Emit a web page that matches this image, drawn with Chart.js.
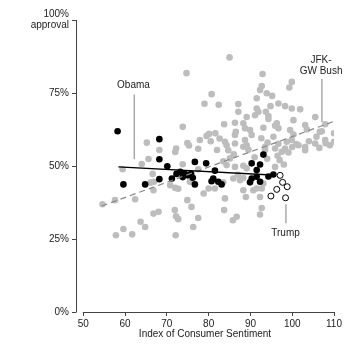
<!DOCTYPE html>
<html><head><meta charset="utf-8">
<script src="https://cdn.jsdelivr.net/npm/chart.js@4"></script>
<style>html,body{margin:0;padding:0;background:#fff}#wrap{width:355px;height:355px;position:relative}</style>
</head><body><div id="wrap"><canvas id="c" width="355" height="355"></canvas></div>
<script>
// ---- data (x = consumer sentiment index, y = approval %) ----
const jfkBushPoints = [
 [54.6,36.9],[57.6,38.3],[62.4,38.6],[59.4,48.9],[64.0,50.7],[65.6,52.4],[66.6,47.3],[66.9,44.6],[66.1,44.3],[66.8,41.7],
 [70.8,43.4],[72.0,42.5],[72.7,42.2],[73.8,50.6],[75.5,44.6],[77.5,48.9],[78.8,40.6],[80.0,42.3],[74.9,38.3],[75.9,36.0],
 [66.8,33.7],[68.0,34.3],[71.9,34.9],[72.7,31.8],[72.2,32.8],[63.7,30.9],[64.8,29.1],[77.5,32.2],[76.3,29.1],[59.6,28.4],
 [57.8,26.3],[61.7,26.6],[72.1,26.3],
 [74.7,81.8],[80.7,74.6],[79.0,71.3],[82.4,71.0],[73.8,63.4],[65.2,58.0],[74.9,57.9],[75.3,57.0],[77.9,58.9],[79.5,60.3],
 [80.1,61.0],[68.2,55.5],[72.2,56.0],[72.0,54.8],[77.5,55.9],[81.6,61.2],[80.5,58.5],[82.6,59.4],[83.9,58.3],
 [84.7,55.4],[88.3,56.6],[89.5,55.6],[84.3,57.1],[95.9,56.0],[97.5,54.9],[99.1,54.6],[103.1,55.4],[86.3,49.7],[88.3,50.1],
 [89.1,49.2],[84.3,50.3],[95.9,49.7],[85.1,52.6],[83.5,51.6],[83.5,44.4],[87.5,45.1],[88.3,45.9],[87.0,47.0],[85.9,45.7],
 [81.5,42.3],[83.9,38.9],[88.9,39.4],[92.3,39.4],[90.7,41.7],[88.3,41.7],[91.5,42.3],[92.7,42.3],[93.1,44.0],[92.7,35.6],
 [92.3,33.4],[86.7,32.6],[85.8,31.4],[83.7,34.9],[97.0,52.0],[98.0,50.5],[96.5,53.5],[94.0,52.5],[91.0,53.0],[93.5,55.5],
 [86.0,54.0],[82.0,55.5],
 [85.0,87.2],[92.9,81.5],[99.9,78.8],[99.3,76.9],[92.7,77.4],[92.3,76.0],[93.9,74.9],[95.2,74.0],[87.1,71.2],[87.1,68.6],
 [91.5,73.2],[91.5,69.7],[91.9,68.6],[94.8,70.5],[96.7,71.4],[98.3,70.5],[99.9,69.7],[101.9,69.4],[89.1,66.8],[91.1,67.4],
 [94.3,67.1],[93.7,68.6],[94.3,66.1],[105.5,66.8],[83.7,64.3],[88.3,64.6],[88.7,62.9],[86.3,64.8],[95.9,63.8],[96.3,64.6],
 [103.1,64.0],[103.5,62.5],[107.1,61.9],[110.0,61.2],[100.3,65.7],[86.5,61.7],[89.9,62.3],[90.3,60.6],[93.1,63.1],[96.7,62.9],
 [99.5,62.3],[100.3,60.8],[107.9,64.3],[106.6,61.7],[105.8,60.0],[107.9,58.9],[109.0,57.1],[86.3,60.6],[88.7,58.9],[89.1,57.1],
 [92.6,59.5],[94.1,58.0],[95.5,60.0],[96.7,57.6],[93.5,56.5],[98.7,58.3],[99.9,58.9],[98.3,56.0],[100.0,56.5],[101.0,57.5],
 [104.0,58.5],[105.5,57.7],[108.0,57.8],[110.0,58.3],[103.1,56.5],[106.5,56.2],[86.3,57.7],[101.5,57.1]
];
const obamaPoints = [
 [58.2,61.9],[68.2,59.2],[68.2,52.3],[70.1,49.9],[59.6,43.7],[64.8,43.7],[68.2,45.5],[71.2,45.7],
 [72.3,47.3],[73.2,48.0],[74.2,47.5],[75.0,46.8],[75.8,47.3],[73.8,46.2],[76.2,46.0],
 [76.7,51.4],[76.7,43.7],[79.4,50.9],[81.5,48.4],[81.1,45.7],[82.3,44.6],[83.1,43.7],[80.7,44.8],
 [93.1,53.9],[90.3,50.9],[92.3,50.5],[91.5,48.6],[90.3,45.7],[91.5,46.3],[89.9,44.4],[92.3,44.6],[94.3,46.4],[95.5,47.1]
];
const trumpPoints = [[97.1,46.8],[97.7,44.4],[98.8,42.9],[96.3,42.0],[94.9,39.7],[98.4,39.1]];
const jfkBushFit = [[54.4,36.3],[110.2,65.4]];
const obamaFit = [[58.4,49.7],[95.1,46.9]];
const xTicks = [50,60,70,80,90,100,110];
const yTicks = [0,25,50,75,100];
const yTickLabels = {0:'0%',25:'25%',50:'50%',75:'75%',100:['100%','approval']};
const xTitle = 'Index of Consumer Sentiment';
const noteLabels = [
 {text:['Obama'], at:[62.0,77.7], lead:[[62.2,74.5],[62.2,52.3]]},
 {text:['JFK-','GW Bush'], at:[106.9,84.4], lead:[[107.1,79.8],[107.1,65.1]]},
 {text:['Trump'], at:[98.4,27.0], lead:[[98.5,36.9],[98.5,30.4]]}
];

const toXY = arr => arr.map(p => ({x:p[0], y:p[1]}));
const FONT = '"Liberation Sans", Arial, Helvetica, sans-serif';

const leadSets = noteLabels.map(n => ({
  type:'line', data: toXY(n.lead), borderColor:'#aaaaaa', borderWidth:1.5,
  pointRadius:0, showLine:true, fill:false
}));

const textPlugin = {
  id:'extras',
  afterDraw(chart){
    const {ctx, scales:{x, y}, chartArea} = chart;
    ctx.save();
    ctx.strokeStyle = '#444'; ctx.lineWidth = 1;
    ctx.beginPath();
    const ax = Math.round(chartArea.left) + 0.5;
    ctx.moveTo(ax, y.getPixelForValue(yTicks[yTicks.length-1]));
    ctx.lineTo(ax, y.getPixelForValue(yTicks[0]) + 0.5);
    const ay = Math.round(chartArea.bottom) + 0.5;
    ctx.moveTo(x.getPixelForValue(xTicks[0]) - 0.5, ay);
    ctx.lineTo(x.getPixelForValue(xTicks[xTicks.length-1]) + 0.5, ay);
    ctx.stroke();
    ctx.fillStyle = '#222';
    ctx.font = '10px ' + FONT;
    ctx.textAlign = 'center'; ctx.textBaseline = 'middle';
    noteLabels.forEach(n => {
      const px = x.getPixelForValue(n.at[0]);
      const py = y.getPixelForValue(n.at[1]);
      const lh = 11;
      n.text.forEach((t, i) => {
        ctx.fillText(t, px, py + (i - (n.text.length-1)/2) * lh);
      });
    });
    ctx.restore();
  }
};

new Chart(document.getElementById('c'), {
  type:'scatter',
  data:{
    datasets:[
      {type:'line', data:toXY(obamaFit), borderColor:'#000', borderWidth:1.5, pointRadius:0, showLine:true, fill:false},
      {type:'line', data:toXY(jfkBushFit), borderColor:'#888', borderWidth:1.2, borderDash:[6,4], pointRadius:0, showLine:true, fill:false},
      ...leadSets,
      {data:toXY(trumpPoints), backgroundColor:'#fff', borderColor:'#000', borderWidth:1, pointRadius:3},
      {data:toXY(obamaPoints), backgroundColor:'#000', borderColor:'#000', borderWidth:0, pointRadius:3.3},
      {data:toXY(jfkBushPoints), backgroundColor:'#bdbdbd', borderColor:'#bdbdbd', borderWidth:0, pointRadius:3.3}
    ]
  },
  options:{
    responsive:false, animation:false, events:[],
    devicePixelRatio:1,
    layout:{padding:{left:0, top:20, right:21, bottom:0}},
    plugins:{legend:{display:false}, tooltip:{enabled:false}},
    scales:{
      x:{
        type:'linear', min:48.25, max:110,
        afterFit(s){ s.height = 43; },
        afterBuildTicks(s){ s.ticks = xTicks.map(v => ({value:v})); },
        border:{display:false},
        grid:{drawOnChartArea:false, drawTicks:true, tickLength:4, color:'#444', lineWidth:1},
        ticks:{padding:2, color:'#222', font:{family:FONT, size:10}, maxRotation:0, autoSkip:false,
               callback:v => String(v)},
        title:{display:true, text:xTitle, color:'#222', font:{family:FONT, size:10},
               padding:{top:0, bottom:15}}
      },
      y:{
        type:'linear', min:0, max:100,
        afterFit(s){ s.width = 76; },
        afterBuildTicks(s){ s.ticks = yTicks.map(v => ({value:v})); },
        border:{display:false},
        grid:{drawOnChartArea:false, drawTicks:true, tickLength:4, color:'#444', lineWidth:1},
        ticks:{padding:3, color:'#222', font:{family:FONT, size:10, lineHeight:1.1}, autoSkip:false,
               callback:v => yTickLabels[v]}
      }
    }
  },
  plugins:[textPlugin]
});
</script>
</body></html>
